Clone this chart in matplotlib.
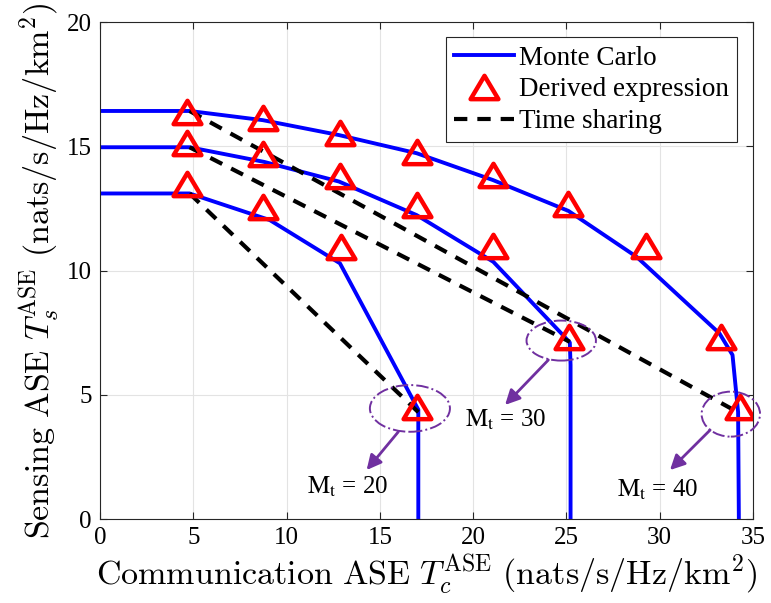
import matplotlib
matplotlib.use('Agg')
import matplotlib.pyplot as plt
from matplotlib.patches import Ellipse
from matplotlib.path import Path

plt.rcParams['font.family'] = ['Liberation Serif', 'DejaVu Serif']

# Monte Carlo curves (traced vertices)
mc20_x = [0, 4.8, 9.1, 12.86, 17.06, 17.06]
mc20_y = [13.1, 13.1, 12.03, 10.29, 4.4, 0]
mc30_x = [0, 4.8, 8.8, 12.81, 16.97, 21.08, 24.75, 25.18, 25.22, 25.22]
mc30_y = [14.96, 14.96, 14.37, 13.58, 12.23, 10.35, 7.45, 7.1, 6.2, 0]
mc40_x = [0, 4.8, 8.73, 12.81, 16.97, 21.06, 25.1, 28.76, 33.2, 33.9, 34.2, 34.24]
mc40_y = [16.42, 16.42, 16.05, 15.45, 14.72, 13.64, 12.4, 10.55, 7.47, 6.6, 4.3, 0]

# Derived expression (markers)
de20_x = [4.66, 8.73, 12.9, 17.0]
de20_y = [13.47, 12.56, 10.93, 4.52]
de30_x = [4.66, 8.73, 12.84, 16.97, 21.06, 25.16]
de30_y = [15.15, 14.70, 13.82, 12.62, 10.99, 7.32]
de40_x = [4.66, 8.73, 12.84, 16.97, 21.06, 25.1, 29.25, 33.3, 34.3]
de40_y = [16.39, 16.14, 15.55, 14.78, 13.84, 12.66, 10.99, 7.32, 4.52]

# Time sharing lines (end points)
ts20_x = [4.8, 17.06]
ts20_y = [13.1, 4.3]
ts30_x = [4.8, 25.18]
ts30_y = [14.96, 7.13]
ts40_x = [4.8, 34.3]
ts40_y = [16.42, 4.25]

blue = '#0000ff'
red = '#ff0000'
purple = '#7030a0'

tri = Path([(0, 0.84), (-1, -0.84), (1, -0.84), (0, 0.84)], closed=True)

fig = plt.figure(figsize=(7.71, 6.03), dpi=100)
ax = fig.add_axes([0.1297, 0.1393, 0.847, 0.8242])

line_kw = dict(color=blue, lw=2.8)
ts_kw = dict(color='black', lw=3, linestyle=(0, (3.2, 2.4)))
mk_kw = dict(linestyle='none', marker=tri, ms=20, mfc='none', mec=red, mew=3.2)

ax.plot(mc40_x, mc40_y, label='Monte Carlo', **line_kw)
ax.plot(mc30_x, mc30_y, **line_kw)
ax.plot(mc20_x, mc20_y, **line_kw)
ax.plot(ts40_x, ts40_y, label='Time sharing', **ts_kw)
ax.plot(ts30_x, ts30_y, **ts_kw)
ax.plot(ts20_x, ts20_y, **ts_kw)
ax.plot(de40_x, de40_y, label='Derived expression', **mk_kw)
ax.plot(de30_x, de30_y, **mk_kw)
ax.plot(de20_x, de20_y, **mk_kw)

# ellipses, arrows and labels
for (cx, cy, w, h) in [(16.61, 4.45, 4.29, 1.88), (24.72, 7.18, 3.72, 1.61), (33.81, 4.22, 3.13, 1.81)]:
    ax.add_patch(Ellipse((cx, cy), w, h, fill=False, edgecolor=purple, lw=1.4,
                         linestyle='-.', clip_on=False, zorder=5))

arrows = [((15.99, 3.51), (14.29, 1.97)), ((24.03, 6.40), (21.71, 4.59)), ((32.70, 3.58), (30.55, 1.97))]
for tail, head in arrows:
    ax.annotate('', xy=head, xytext=tail,
                arrowprops=dict(arrowstyle='-|>', color=purple, lw=2, mutation_scale=22,
                                shrinkA=0, shrinkB=0))

for (tx, ty, s) in [(11.07, 1.05, '20'), (19.56, 3.71, '30'), (27.69, 0.90, '40')]:
    ax.text(tx, ty, r'$\mathrm{M_t}$ = ' + s, fontsize=18, va='baseline', ha='left',
            math_fontfamily='stix')

ax.set_xlim(0, 35)
ax.set_ylim(0, 20)
ax.set_xticks(range(0, 36, 5))
ax.set_yticks(range(0, 21, 5))
ax.tick_params(direction='in', length=5, width=0.8, top=True, right=True,
               labelsize=18, colors='#262626', labelcolor='black', pad=6)
for sp in ax.spines.values():
    sp.set_color('#262626')
    sp.set_linewidth(0.8)
ax.grid(True, color='#e3e3e3', lw=0.8)
ax.set_axisbelow(True)

ax.set_xlabel(r'$\mathrm{Communication\ ASE}\ T_c^{\mathrm{ASE}}\ \mathrm{(nats/s/Hz/km^2)}$',
              fontsize=24.5, math_fontfamily='cm', labelpad=2)
ax.set_ylabel(r'$\mathrm{Sensing\ ASE}\ T_s^{\mathrm{ASE}}\ \mathrm{(nats/s/Hz/km^2)}$',
              fontsize=24.5, math_fontfamily='cm', labelpad=4)

h, l = ax.get_legend_handles_labels()
order = [0, 2, 1]
leg = ax.legend([h[i] for i in order], [l[i] for i in order], loc='upper right',
                bbox_to_anchor=(0.976, 0.969), borderaxespad=0, fontsize=19.5,
                fancybox=False, framealpha=1, edgecolor='#262626',
                handlelength=2.2, handletextpad=0.2, labelspacing=0.25, borderpad=0.3)
leg.get_frame().set_linewidth(0.8)

fig.savefig('out.png', dpi=100)
